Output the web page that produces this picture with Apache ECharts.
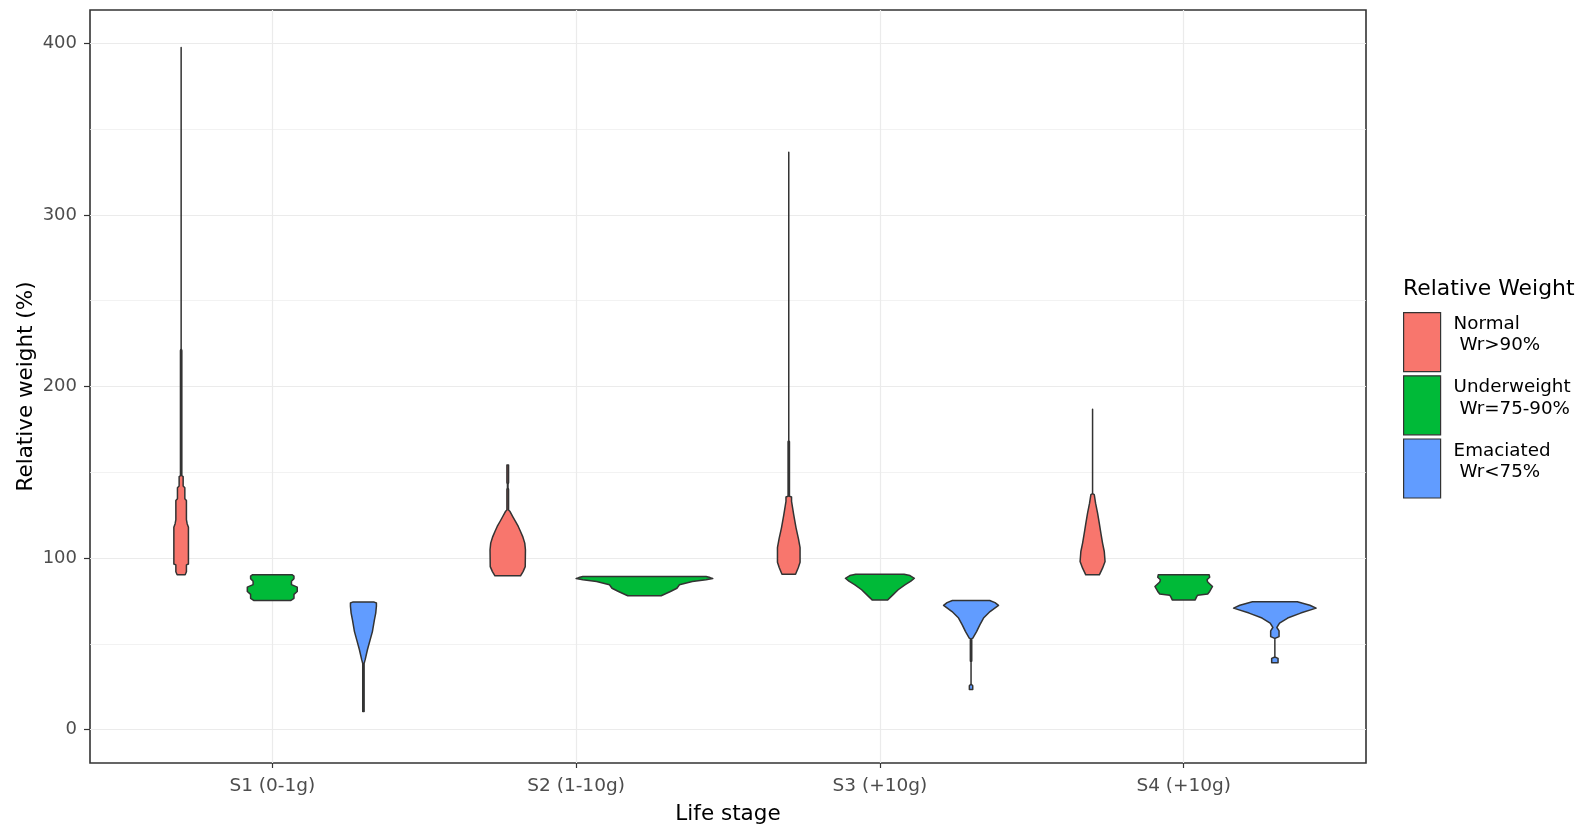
<!DOCTYPE html>
<html>
<head>
<meta charset="utf-8">
<title>Relative weight by life stage</title>
<script src="https://cdn.jsdelivr.net/npm/echarts@6/dist/echarts.min.js"></script>
<style>
  html, body { margin: 0; padding: 0; background: #ffffff; }
  #chart { width: 1589px; height: 830px; }
</style>
</head>
<body>
<div id="chart"></div>
<script>
// Life stages (x axis categories)
const stages = ['S1 (0-1g)', 'S2 (1-10g)', 'S3 (+10g)', 'S4 (+10g)'];
// Relative-weight classes (fill groups) and their legend texts
const groups = ['Normal', 'Underweight', 'Emaciated'];
const groupLabels = ['Normal\n Wr>90%', 'Underweight\n Wr=75-90%', 'Emaciated\n Wr<75%'];
// Y axis tick values
const yTicks = [0, 100, 200, 300, 400];
const yMinorTicks = [50, 150, 250, 350];

// Violin profiles: [relative weight (%), density relative to the widest violin]
const s1Normal = [[90.2, .088], [92, .116], [96, .116], [96.5, .160], [118, .160], [120, .132], [122.4, .116],
  [133.5, .116], [134.5, .081], [141, .081], [142, .044], [147.5, .044], [148, .015], [221, .015], [222, 0], [397.7, 0]];
const s1Underweight = [[75.2, .401], [76.5, .476], [78.8, .476], [80.5, .548], [83, .548], [84.5, .421],
  [86.5, .421], [88, .476], [89.5, .476], [90.2, .439]];
const s1Emaciated = [[10.5, .015], [38.5, .015], [40.6, .037], [46.5, .088], [52.3, .147], [57.1, .197], [64, .241],
  [67.9, .270], [72, .285], [73.8, .285], [74.3, .237]];

const s2Normal = [[89.6, .187], [92.1, .224], [95, .256], [104.8, .259], [108.7, .249], [112.5, .219], [115.5, .187],
  [118.4, .154], [121.3, .113], [124.2, .073], [127.1, .034], [128, .012], [140, .012], [141, .004], [143, .004],
  [144, .012], [154.3, .012]];
const s2Underweight = [[78.0, .244], [79.0, .30], [80.5, .38], [82.4, .475], [84.4, .512], [86.3, .70], [87.3, .90],
  [88.0, 1.0], [88.6, .96], [89.2, .902]];

const s3Normal = [[90.5, .149], [94.3, .208], [97.5, .248], [106, .248], [111.2, .213], [117.6, .160], [125, .110],
  [133, .061], [135.6, .061], [136, .015], [167.8, .015], [168.5, 0], [336.5, 0]];
const s3Underweight = [[75.6, .171], [78.5, .285], [81.5, .401], [84.4, .548], [86.5, .68], [88.2, .757],
  [89.8, .66], [90.6, .531]];
const s3Emaciated = [[23.3, .037], [25.5, .037], [26.5, 0], [39.5, 0], [40, .015], [53, .015], [53.3, .039],
  [57.1, .121], [61, .193], [65, .274], [68.8, .417], [72.4, .603], [74, .526], [75.2, .41]];

const s4Normal = [[90.2, .149], [94.1, .219], [98, .274], [103.8, .257], [108.7, .219], [114.5, .182], [120.3, .147],
  [126.2, .110], [132, .066], [136.9, .037], [137.5, 0], [186.8, 0]];
const s4Underweight = [[75.6, .252], [77.5, .285], [78.3, .307], [79, .526], [80.5, .570], [83.4, .632], [86, .526],
  [87.3, .511], [88.8, .570], [90.2, .559]];
const s4Emaciated = [[39, .070], [41.5, .070], [42.3, 0], [53, 0], [53.3, .015], [54.2, .092], [57.5, .092],
  [59.5, .044], [60.5, .066], [62, .103], [65, .281], [67.9, .566], [70.8, .906], [72.5, .768], [74.5, .493]];

// Which violins exist per stage, in group order (null = class absent at that stage)
const stageViolins = [
  [s1Normal, s1Underweight, s1Emaciated],
  [s2Normal, s2Underweight, null],
  [s3Normal, s3Underweight, s3Emaciated],
  [s4Normal, s4Underweight, s4Emaciated]
];

const FONT = 'DejaVu Sans';
const DODGE = 0.9;          // total width shared by the violins of one stage
const OUTLINE = '#333333';

// Draws one violin: dodged within its stage, width proportional to density
function violinRenderer(gi) {
  return function (params, api) {
    const stageNo = api.value(0);
    const present = stageViolins[stageNo - 1];
    const slots = [];
    present.forEach((p, i) => { if (p) slots.push(i); });
    const n = slots.length;
    const k = slots.indexOf(gi);
    const band = DODGE / n;
    const center = stageNo + (k - (n - 1) / 2) * band;
    const half = band / 2;
    const prof = present[gi];
    const right = prof.map(([v, d]) => api.coord([center + d * half, v]));
    const left = prof.slice().reverse().map(([v, d]) => api.coord([center - d * half, v]));
    return {
      type: 'polygon',
      shape: { points: right.concat(left) },
      style: { fill: api.visual('color'), stroke: OUTLINE, lineWidth: 1.5, lineJoin: 'round' }
    };
  };
}

const series = groups.map((g, gi) => {
  const data = [];
  stageViolins.forEach((row, si) => {
    const prof = row[gi];
    if (prof) data.push([si + 1, prof[0][0], prof[prof.length - 1][0]]);
  });
  return {
    type: 'custom',
    name: g,
    renderItem: violinRenderer(gi),
    encode: { x: 0, y: [1, 2] },
    data: data,
    silent: true
  };
});

// Legend text: two label lines plus a short spacer line that lifts them toward the key's top
function legendText(name) {
  const lines = groupLabels[groups.indexOf(name)].split('\n');
  return lines.map(l => '{t|' + l + '}').join('\n') + '\n{s| }';
}

const chart = echarts.init(document.getElementById('chart'));
chart.setOption({
  animation: false,
  backgroundColor: '#ffffff',
  color: ['#F8766D', '#00BA38', '#619CFF'],
  grid: {
    left: 90, right: 223, top: 10, bottom: 67,
    show: true, borderColor: '#333333', borderWidth: 1.6, backgroundColor: 'transparent'
  },
  xAxis: {
    type: 'value',
    min: 0.4, max: 4.6,
    name: 'Life stage',
    nameLocation: 'middle',
    nameGap: 40,
    nameMoveOverlap: false,
    nameTextStyle: { fontFamily: FONT, fontSize: 21.5, color: '#000000' },
    axisLine: { show: false, onZero: false },
    axisTick: { show: true, length: 5, customValues: [1, 2, 3, 4], lineStyle: { color: '#333333', width: 1.2 } },
    axisLabel: {
      customValues: [1, 2, 3, 4],
      formatter: v => stages[Math.round(v) - 1],
      fontFamily: FONT, fontSize: 18.5, color: '#4D4D4D', margin: 14
    },
    splitLine: { show: true, lineStyle: { color: '#EBEBEB', width: 1.2 } }
  },
  yAxis: [{
    type: 'value',
    min: -19.5, max: 419.5,
    name: 'Relative weight (%)',
    nameLocation: 'middle',
    nameGap: 53,
    nameMoveOverlap: false,
    nameTextStyle: { fontFamily: FONT, fontSize: 21.5, color: '#000000' },
    axisLine: { show: false },
    axisTick: { show: true, length: 6, customValues: yTicks, lineStyle: { color: '#333333', width: 1.2 } },
    axisLabel: { customValues: yTicks, fontFamily: FONT, fontSize: 18, color: '#4D4D4D', margin: 13 },
    splitLine: { show: true, lineStyle: { color: '#EBEBEB', width: 1.2 } }
  }, {
    // minor horizontal grid lines
    type: 'value',
    position: 'right',
    min: -19.5, max: 419.5,
    axisLine: { show: false },
    axisTick: { show: false, customValues: yMinorTicks },
    axisLabel: { show: false },
    splitLine: { show: true, lineStyle: { color: '#EFEFEF', width: 0.8 } }
  }],
  legend: {
    orient: 'vertical',
    left: 1403, top: 312,
    padding: 0,
    itemGap: 3,
    itemWidth: 37, itemHeight: 59,
    icon: 'rect',
    selectedMode: false,
    data: groups,
    itemStyle: { borderColor: '#333333', borderWidth: 1.2 },
    formatter: legendText,
    textStyle: {
      padding: [0, 0, 0, 8],
      rich: {
        t: { fontFamily: FONT, fontSize: 18.3, color: '#000000', lineHeight: 21.3 },
        s: { fontFamily: FONT, fontSize: 8, lineHeight: 14 }
      }
    }
  },
  graphic: [{
    type: 'text',
    left: 1403, top: 278,
    style: { text: 'Relative Weight', fontFamily: FONT, fontSize: 21.9, fill: '#000000' }
  }],
  series: series
});
</script>
</body>
</html>
